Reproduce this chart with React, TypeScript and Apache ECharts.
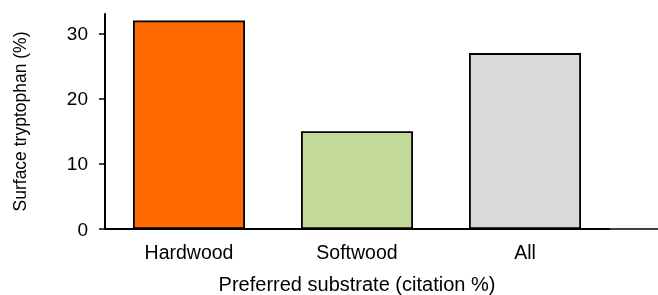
import React, { useEffect, useRef } from "react";
import * as echarts from "echarts";

const categories = ["Hardwood", "Softwood", "All"];
const values = [32, 15, 27];
const barColors = ["#FF6A00", "#C2D99A", "#D9D9D9"];
const yTicks = [0, 10, 20, 30];

const FONT = "Arial, 'Liberation Sans', sans-serif";

export default function App() {
  const ref = useRef<HTMLDivElement>(null);
  useEffect(() => {
    if (!ref.current) return;
    const chart = echarts.init(ref.current, undefined, { renderer: "svg" });
    chart.setOption({
      animation: false,
      grid: {
        left: 105,
        right: 49,
        top: 14,
        bottom: 66,
        containLabel: false,
        outerBoundsMode: "none",
      },
      graphic: [
        {
          type: "line",
          shape: { x1: 609, y1: 229, x2: 658, y2: 229 },
          style: { stroke: "#000", lineWidth: 1.5 },
          silent: true,
        },
      ],
      xAxis: {
        type: "category",
        data: categories,
        name: "Preferred substrate (citation %)",
        nameLocation: "middle",
        nameGap: 45,
        nameTextStyle: { color: "#000", fontSize: 20, fontFamily: FONT },
        axisLine: { show: true, lineStyle: { color: "#000", width: 2 } },
        axisTick: { show: false },
        axisLabel: { color: "#000", fontSize: 19.5, fontFamily: FONT, margin: 13 },
        splitLine: { show: false },
      },
      yAxis: {
        type: "value",
        min: 0,
        max: 33,
        interval: 10,
        name: "Surface tryptophan (%)",
        nameLocation: "middle",
        nameGap: 76,
        nameRotate: 90,
        nameTextStyle: { color: "#000", fontSize: 17.5, fontFamily: FONT },
        axisLine: { show: true, lineStyle: { color: "#000", width: 2 } },
        axisTick: {
          show: true,
          length: 6,
          lineStyle: { color: "#000", width: 1.5 },
          customValues: yTicks,
        },
        axisLabel: {
          color: "#000",
          fontSize: 19,
          fontFamily: FONT,
          margin: 17,
          customValues: yTicks,
        },
        splitLine: { show: false },
      },
      series: [
        {
          type: "bar",
          data: values.map((v, i) => ({
            value: v,
            itemStyle: { color: barColors[i] },
          })),
          barWidth: 112,
          itemStyle: { borderColor: "#000", borderWidth: 1.8 },
        },
      ],
    });
    return () => chart.dispose();
  }, []);
  return (
    <div
      ref={ref}
      style={{ position: "fixed", left: 0, top: 0, width: 658, height: 295 }}
    />
  );
}
